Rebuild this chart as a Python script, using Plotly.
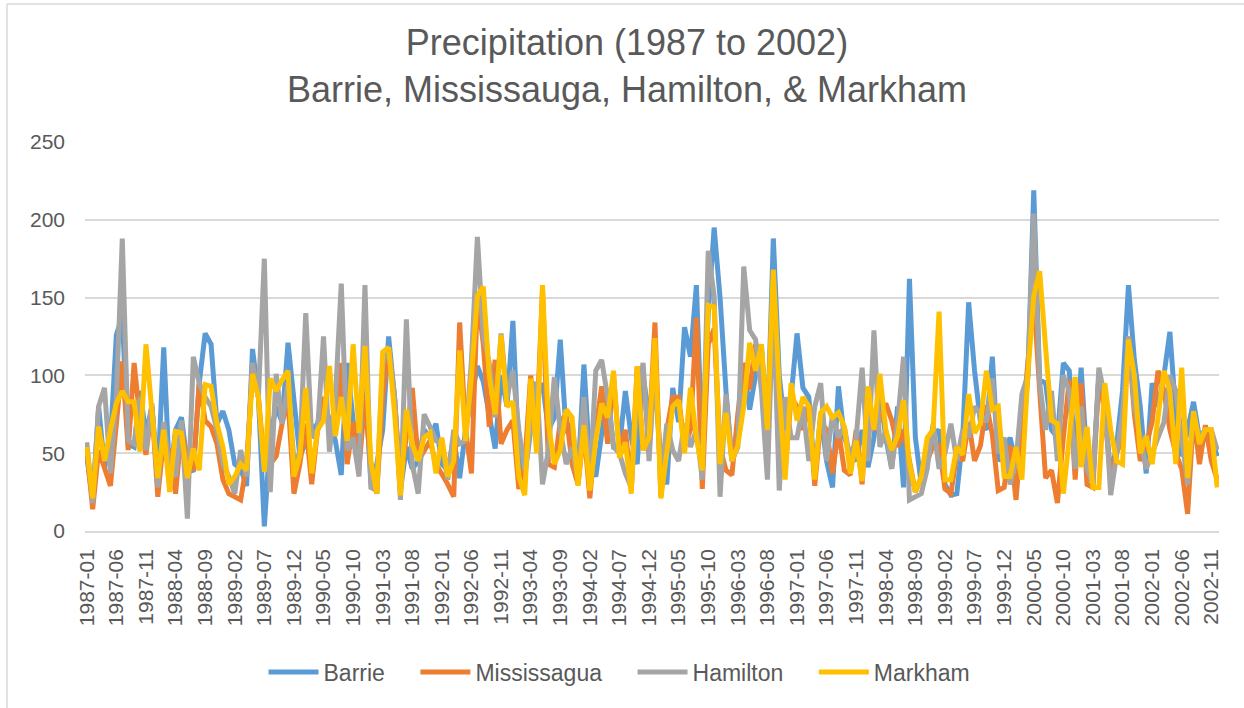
import plotly.graph_objects as go

years = list(range(1987, 2003))
months = [f"{y}-{m:02d}" for y in years for m in range(1, 13)]
tick_labels = months[::5]

barrie = [
    48, 20, 80, 41, 58, 126, 138, 56, 54, 90, 62, 80,
    35, 118, 33, 65, 73, 43, 38, 95, 127, 120, 69, 77,
    65, 43, 40, 29, 117, 86, 3, 60, 80, 70, 121, 86,
    48, 57, 65, 69, 86, 71, 58, 36, 108, 71, 54, 100,
    30, 43, 65, 125, 86, 26, 54, 40, 45, 65, 60, 69,
    43, 39, 60, 34, 65, 86, 106, 96, 75, 53, 100, 80,
    135, 48, 35, 65, 86, 95, 65, 73, 123, 63, 69, 35,
    107, 43, 35, 65, 90, 54, 54, 90, 60, 43, 100, 73,
    100, 43, 30, 92, 70, 131, 112, 158, 50, 140, 195, 150,
    90, 45, 60, 108, 78, 100, 118, 65, 188, 100, 65, 86,
    127, 92, 86, 35, 75, 45, 28, 93, 60, 50, 45, 65,
    41, 60, 91, 60, 40, 80, 28, 162, 60, 30, 45, 62,
    65, 30, 23, 24, 60, 147, 103, 70, 65, 112, 45, 50,
    60, 43, 55, 99, 219, 97, 95, 65, 60, 108, 103, 45,
    105, 45, 35, 100, 80, 35, 55, 90, 158, 110, 80, 37,
    95, 80, 100, 128, 75, 48, 65, 83, 60, 65, 60, 48,
]

mississauga = [
    52, 14, 52, 41, 29, 69, 109, 52, 108, 71, 49, 80,
    22, 60, 50, 24, 65, 45, 39, 95, 71, 67, 56, 33,
    24, 22, 20, 43, 103, 86, 43, 43, 48, 69, 85, 24,
    43, 69, 30, 65, 86, 65, 69, 108, 43, 70, 40, 86,
    39, 24, 86, 118, 86, 30, 60, 92, 45, 52, 58, 43,
    37, 30, 22, 134, 65, 37, 151, 120, 67, 110, 56, 65,
    71, 27, 43, 100, 65, 155, 43, 41, 70, 75, 43, 30,
    65, 21, 65, 93, 56, 100, 50, 65, 28, 106, 52, 60,
    134, 22, 65, 86, 86, 54, 65, 137, 27, 120, 130, 54,
    39, 36, 75, 108, 91, 120, 113, 70, 158, 86, 39, 86,
    80, 65, 82, 29, 70, 65, 37, 65, 39, 36, 65, 30,
    86, 65, 71, 82, 71, 54, 65, 43, 25, 35, 45, 55,
    55, 27, 24, 50, 45, 70, 45, 55, 81, 62, 26, 28,
    55, 20, 65, 110, 151, 90, 34, 39, 18, 60, 97, 33,
    95, 30, 28, 100, 75, 35, 50, 60, 125, 75, 45, 55,
    70, 103, 90, 65, 50, 40, 11, 75, 43, 68, 45, 33,
]

hamilton = [
    57, 18, 80, 92, 37, 86, 188, 58, 56, 86, 52, 82,
    28, 70, 40, 35, 71, 8, 112, 95, 86, 80, 65, 43,
    35, 24, 52, 35, 108, 86, 175, 25, 101, 69, 95, 45,
    50, 140, 60, 65, 125, 51, 85, 159, 52, 60, 35, 158,
    28, 26, 108, 118, 86, 20, 136, 43, 24, 75, 67, 58,
    56, 33, 65, 56, 58, 110, 189, 125, 108, 73, 127, 86,
    103, 65, 39, 65, 96, 30, 52, 99, 65, 43, 54, 32,
    86, 30, 103, 110, 86, 54, 50, 37, 28, 86, 108, 45,
    108, 32, 69, 52, 45, 69, 54, 65, 33, 180, 151, 22,
    88, 45, 54, 170, 129, 123, 90, 33, 150, 26, 86, 60,
    60, 80, 45, 80, 95, 45, 75, 60, 67, 45, 60, 105,
    45, 129, 54, 65, 40, 70, 112, 20, 22, 24, 40, 69,
    40, 50, 69, 45, 65, 60, 80, 75, 70, 98, 50, 60,
    30, 45, 88, 100, 204, 95, 65, 90, 45, 100, 90, 40,
    80, 40, 30, 105, 86, 23, 50, 75, 125, 80, 60, 40,
    50, 60, 70, 100, 90, 60, 30, 75, 60, 65, 65, 52,
]

markham = [
    54, 21, 67, 45, 65, 82, 90, 83, 83, 51, 120, 75,
    34, 65, 25, 64, 63, 34, 53, 39, 94, 93, 69, 54,
    30, 35, 43, 39, 101, 86, 38, 98, 90, 97, 103, 35,
    48, 92, 37, 65, 71, 106, 61, 86, 58, 120, 63, 119,
    45, 24, 115, 118, 76, 23, 78, 56, 45, 60, 63, 37,
    60, 35, 45, 116, 58, 100, 151, 157, 100, 75, 126, 80,
    83, 35, 23, 98, 50, 158, 69, 43, 52, 78, 73, 29,
    68, 26, 58, 82, 73, 103, 47, 57, 24, 106, 52, 60,
    124, 21, 50, 80, 84, 50, 92, 60, 39, 145, 144, 43,
    76, 45, 55, 80, 121, 103, 120, 65, 168, 90, 33, 95,
    71, 86, 80, 33, 76, 80, 73, 76, 67, 37, 58, 32,
    93, 65, 101, 65, 52, 61, 84, 43, 25, 35, 60, 65,
    141, 33, 33, 54, 49, 88, 63, 69, 103, 78, 80, 35,
    35, 54, 33, 100, 151, 167, 118, 71, 69, 24, 60, 99,
    41, 67, 28, 28, 95, 65, 45, 43, 123, 100, 50, 61,
    43, 75, 103, 90, 43, 105, 34, 77, 56, 65, 65, 28,
]

series = [
    ("Barrie", barrie, "#5B9BD5"),
    ("Mississagua", mississauga, "#ED7D31"),
    ("Hamilton", hamilton, "#A5A5A5"),
    ("Markham", markham, "#FFC000"),
]
for name, vals, _ in series:
    assert len(vals) == len(months), (name, len(vals))

FONT = "Liberation Sans, Arial, sans-serif"
TXT = "#595959"
GRID = "#D9D9D9"
PAD = "\u00a0" * 4  # spacing after each legend label

fig = go.Figure()
for name, vals, color in series:
    fig.add_trace(go.Scatter(
        x=months, y=vals, name=name + PAD, mode="lines",
        line=dict(color=color, width=5),
    ))

L, R, T, B = 85, 25, 142, 177
W, H = 1244, 708
pw, ph = W - L - R, H - T - B

def px(x):
    return (x - L) / pw

def py(y):
    return (H - B - y) / ph

fig.update_layout(
    width=W, height=H,
    margin=dict(l=L, r=R, t=T, b=B),
    paper_bgcolor="white", plot_bgcolor="white",
    font=dict(family=FONT, color=TXT),
    title=dict(
        text="Precipitation (1987 to 2002)<br>Barrie, Mississauga, Hamilton, & Markham",
        x=627 / W, xref="container", xanchor="center",
        y=1 - 55 / H, yref="container", yanchor="top",
        font=dict(size=36, color=TXT, family=FONT),
    ),
    showlegend=True,
    legend=dict(
        orientation="h", x=px(632), xanchor="center",
        y=py(672), yanchor="middle",
        font=dict(size=23, color=TXT, family=FONT),
        bgcolor="rgba(0,0,0,0)",
        itemwidth=50,
    ),
    xaxis=dict(
        type="category",
        range=[-0.3, len(months) - 0.7],
        tickmode="array", tickvals=tick_labels, ticktext=tick_labels,
        tickangle=-90, tickfont=dict(size=21, color=TXT),
        showgrid=False, showline=True, linecolor=GRID, linewidth=1.5,
        ticks="", ticklabelstandoff=8,
    ),
    yaxis=dict(
        range=[0, 250], dtick=50, tick0=0,
        showgrid=True, gridcolor=GRID, gridwidth=1.5,
        zeroline=False, showline=False, ticks="",
        tickfont=dict(size=21, color=TXT), ticklabelstandoff=19,
    ),
    shapes=[
        dict(type="line", xref="paper", yref="paper",
             x0=px(7), x1=px(W + 10), y0=py(4), y1=py(4),
             line=dict(color=GRID, width=1.5)),
        dict(type="line", xref="paper", yref="paper",
             x0=px(7), x1=px(7), y0=py(4), y1=py(H + 10),
             line=dict(color=GRID, width=1.5)),
    ],
)

fig.write_html(
    "out.html",
    config={"displayModeBar": False},
    post_script="document.body.style.margin='0';",
)
